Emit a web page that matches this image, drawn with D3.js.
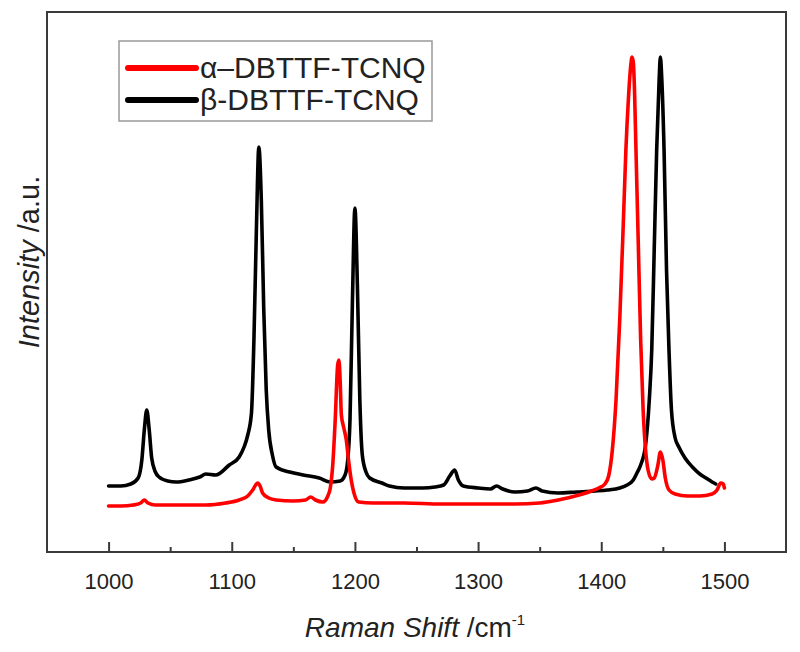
<!DOCTYPE html>
<html>
<head>
<meta charset="utf-8">
<script src="https://cdn.jsdelivr.net/npm/d3@7"></script>
<style>
  html, body { margin: 0; padding: 0; background: #fff; }
  svg { display: block; font-family: "Liberation Sans", Arial, sans-serif; }
</style>
</head>
<body>
<svg id="chart" width="800" height="652"></svg>
<script>
// ---- Data ----
const seriesNames = ["α–DBTTF-TCNQ", "β-DBTTF-TCNQ"];
const seriesColors = ["#ff0000", "#000000"];

// α-DBTTF-TCNQ : Raman shift (cm-1) and intensity (a.u.)
const alphaShift = [1000,1010,1020,1026,1029,1032,1038,1060,1079,1095,1106,1113,1117,1121,1123,1125,1130,1136,1150,1160,1164,1168,1174,1178,1180,1182,1184,1186,1187,1188,1189,1191,1193,1195,1197,1199,1203,1215,1240,1270,1300,1330,1350,1365,1382,1392,1398,1403,1406,1409,1412,1415,1418,1420,1422,1424,1425,1426,1427,1428,1430,1432,1434,1436,1438,1441,1443,1446,1448,1450,1452,1455,1460,1470,1480,1490,1494,1497,1499,1500];
const alphaIntensity = [46,46,47,49,52,49,47,47,47,49,52,56,62,69,66,59,54,52,51,52,55,52,50,56,64,87,132,187,192,172,137,124,112,90,72,60,50,49,49,48,48,48,49,52,57,61,64,68,76,102,152,232,332,402,452,487,495,490,462,412,312,212,142,102,82,73,74,87,100,92,74,62,58,56,56,58,62,69,68,64];

// β-DBTTF-TCNQ : Raman shift (cm-1) and intensity (a.u.)
const betaShift = [1000,1010,1018,1024,1027,1029,1031,1033,1035,1038,1041,1048,1055,1065,1074,1079,1087,1098,1106,1110,1113,1116,1118,1120,1122,1124,1126,1128,1130,1133,1136,1147,1158,1171,1180,1188,1192,1194,1196,1198,1200,1202,1204,1206,1209,1212,1222,1228,1240,1255,1265,1272,1277,1281,1284,1288,1300,1310,1315,1320,1330,1340,1347,1352,1365,1380,1395,1405,1415,1421,1426,1429,1432,1436,1439,1441,1443,1445,1447,1448,1449,1451,1453,1455,1457,1460,1463,1468,1474,1480,1485,1490,1493];
const betaIntensity = [66,66,68,74,92,122,142,122,94,80,75,71,70,72,75,78,77,87,95,105,117,139,212,322,405,352,242,162,122,97,85,80,77,74,70,71,77,90,132,252,344,267,152,97,80,74,69,66,64,64,65,67,76,82,72,66,64,63,66,63,60,61,64,61,59,60,61,62,64,67,72,79,87,107,152,202,302,402,472,495,477,402,282,202,142,114,105,94,85,78,74,70,68];

const xTicks = [1000, 1100, 1200, 1300, 1400, 1500];
const xMinorTicks = [1050, 1150, 1250, 1350, 1450];
const xDomain = [950, 1550];
const yDomain = [0, 540];

// ---- Layout ----
const svg = d3.select("#chart");
const margin = { left: 47, top: 12, right: 14, bottom: 100 };
const W = 800, H = 652;
const x = d3.scaleLinear().domain(xDomain).range([margin.left, W - margin.right]);
const y = d3.scaleLinear().domain(yDomain).range([H - margin.bottom, margin.top]);

const series = [
  { name: seriesNames[0], color: seriesColors[0], xs: alphaShift, ys: alphaIntensity },
  { name: seriesNames[1], color: seriesColors[1], xs: betaShift, ys: betaIntensity }
];

const line = d3.line()
  .x(d => x(d[0]))
  .y(d => y(d[1]))
  .curve(d3.curveMonotoneX);

const drawOrder = [series[1], series[0]];
svg.append("g").selectAll("path")
  .data(drawOrder)
  .join("path")
  .attr("d", s => line(s.xs.map((v, i) => [v, s.ys[i]])))
  .attr("fill", "none")
  .attr("stroke", s => s.color)
  .attr("stroke-width", 3.6)
  .attr("stroke-linejoin", "round")
  .attr("stroke-linecap", "round");

// ---- Frame ----
const frameColor = "#3a3a3a";
svg.append("rect")
  .attr("x", x(xDomain[0])).attr("y", y(yDomain[1]))
  .attr("width", x(xDomain[1]) - x(xDomain[0]))
  .attr("height", y(yDomain[0]) - y(yDomain[1]))
  .attr("fill", "none").attr("stroke", frameColor).attr("stroke-width", 2);

// ---- X axis ----
const xAxis = d3.axisBottom(x).tickValues(xTicks).tickSizeInner(-10).tickSizeOuter(0).tickPadding(21).tickFormat(d3.format("d"));
const gx = svg.append("g").attr("transform", `translate(0,${y(yDomain[0])})`).call(xAxis);
gx.select(".domain").remove();
gx.selectAll(".tick line").attr("stroke", frameColor).attr("stroke-width", 2);
gx.selectAll(".tick text").attr("font-size", 22).attr("fill", "#222")
  .attr("font-family", "'Liberation Sans', Arial, sans-serif");

const gxm = svg.append("g").attr("transform", `translate(0,${y(yDomain[0])})`)
  .call(d3.axisBottom(x).tickValues(xMinorTicks).tickSizeInner(-5).tickSizeOuter(0).tickFormat(""));
gxm.select(".domain").remove();
gxm.selectAll(".tick line").attr("stroke", frameColor).attr("stroke-width", 2);

// ---- Axis titles ----
const xt = svg.append("text")
  .attr("x", 415).attr("y", 637)
  .attr("text-anchor", "middle")
  .attr("font-size", 28).attr("fill", "#222");
xt.append("tspan").attr("font-style", "italic").text("Raman Shift");
xt.append("tspan").text(" /cm");
xt.append("tspan").attr("font-size", 15).attr("dy", -12).text("-1");

const yt = svg.append("text")
  .attr("transform", "translate(39,262) rotate(-90)")
  .attr("text-anchor", "middle")
  .attr("font-size", 29).attr("fill", "#222");
yt.append("tspan").attr("font-style", "italic").text("Intensity");
yt.append("tspan").text(" /a.u.");

// ---- Legend ----
const lg = svg.append("g");
lg.append("rect")
  .attr("x", 119).attr("y", 41).attr("width", 313).attr("height", 80)
  .attr("fill", "#fff").attr("stroke", "#999").attr("stroke-width", 1.5);
series.forEach((s, i) => {
  const cy = 68 + i * 32;
  lg.append("line")
    .attr("x1", 128).attr("x2", 196).attr("y1", cy).attr("y2", cy)
    .attr("stroke", s.color).attr("stroke-width", 6).attr("stroke-linecap", "round");
  lg.append("text")
    .attr("x", 200).attr("y", cy + 10)
    .attr("font-size", 30).attr("fill", "#222")
    .text(s.name);
});
</script>
</body>
</html>
